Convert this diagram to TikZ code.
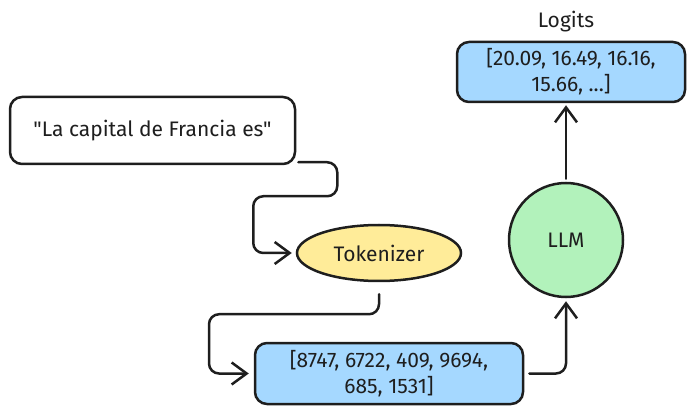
\documentclass[tikz,border=0pt]{standalone}
\usepackage{fontspec}
\newfontfamily\plainfont{Fira Sans}
\usetikzlibrary{shapes.geometric,arrows.meta,calc}
\definecolor{ink}{HTML}{1E1E1E}
\definecolor{exyellow}{HTML}{FFEC99}
\definecolor{exblue}{HTML}{A5D8FF}
\definecolor{exgreen}{HTML}{B2F2BB}
\tikzset{
  txtfont/.style={font=\plainfont\fontsize{21}{26}\selectfont, text=ink},
  shp/.style={draw=ink, line width=2.5pt, txtfont},
  rbox/.style={shp, rectangle, rounded corners=12pt, align=center, inner sep=0pt},
  conn/.style={draw=ink, line width=2.5pt, line cap=round, line join=round,
    -{Straight Barb[length=15pt,width=22pt,line width=2.5pt]}},
}
\begin{document}
\begin{tikzpicture}[x=1pt,y=-1pt]
\useasboundingbox (0,0) rectangle (694,414);
\node[rbox, fill=white, minimum width=285, minimum height=67] (txt) at (152.5,130.5) {"La capital de Francia es"};
\node[shp, ellipse, fill=exyellow, minimum width=164, minimum height=56, inner sep=0pt] (tok) at (379,253) {Tokenizer};
\node[rbox, fill=exblue, minimum width=268, minimum height=61] (ids) at (389,373.5) {[8747, 6722, 409, 9694,\\685, 1531]};
\node[shp, circle, fill=exgreen, minimum size=114, inner sep=0pt] (llm) at (566,240) {LLM};
\node[rbox, fill=exblue, minimum width=228, minimum height=60] (lg) at (571,72) {[20.09, 16.49, 16.16,\\15.66, ...]};
\node[txtfont] (lgl) at (566,22) {Logits};
\draw[conn, rounded corners=10pt, shorten >=4pt] ([shift={(2,-3)}]txt.south east) -- ++(39,0) -- ++(0,34) -- ++(-84,0) |- (tok.west);
\draw[conn, rounded corners=10pt, shorten >=5pt] ([yshift=-12]tok.south) -- ++(0,20) -- ++(-170,0) |- (ids.west);
\draw[conn, rounded corners=10pt, shorten >=3pt] ([xshift=5]ids.east) -| (llm.south);
\draw[conn, shorten <=3pt, shorten >=2pt] (llm.north) -- (llm.north |- lg.south);
\end{tikzpicture}
\end{document}
